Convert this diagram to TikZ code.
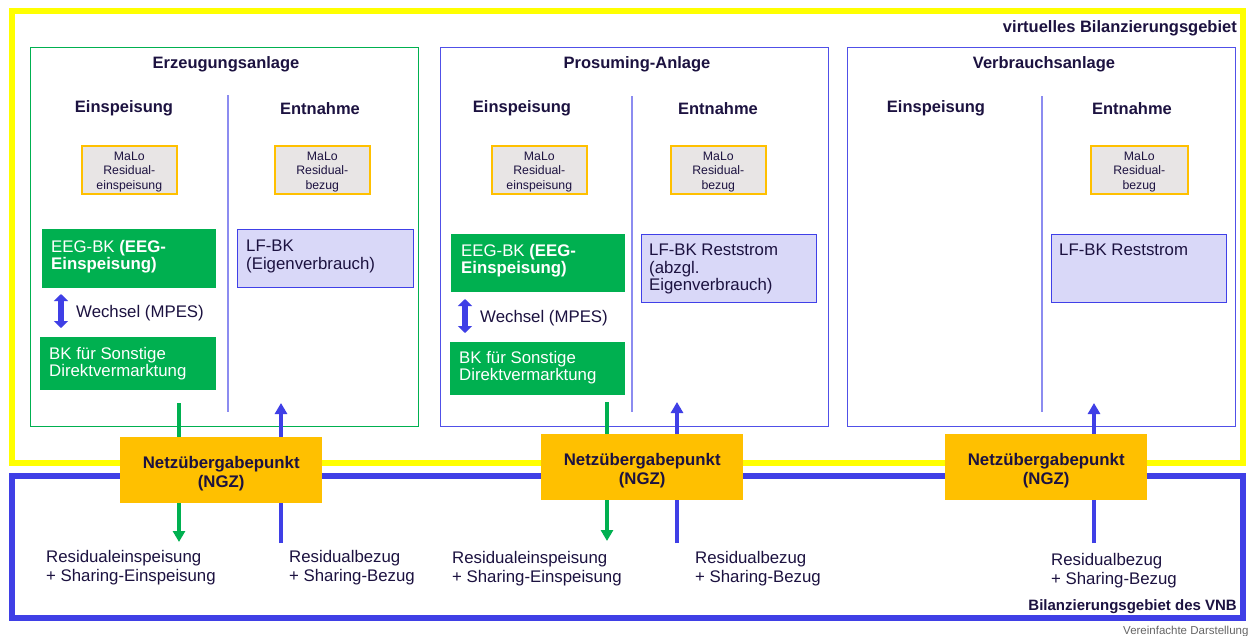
\documentclass[tikz,border=0pt]{standalone}
\usepackage{fontspec}
\setmainfont{Liberation Sans}
\usetikzlibrary{arrows.meta,calc}
\definecolor{ink}{HTML}{1C1240}
\definecolor{yel}{HTML}{FFFF00}
\definecolor{vnb}{HTML}{3F3FE6}
\definecolor{grn}{HTML}{00B050}
\definecolor{org}{HTML}{FFC000}
\definecolor{lav}{HTML}{D9D8F8}
\definecolor{lavb}{HTML}{4040E8}
\definecolor{divc}{HTML}{8C8CF0}
\definecolor{malo}{HTML}{E8E5E5}
\definecolor{pblue}{HTML}{5050E8}
\tikzset{
  txt/.style={text=ink, inner sep=0pt, font=\fontsize{16.8}{17.5}\selectfont, align=left},
  wtxt/.style={text=white, inner sep=0pt, font=\fontsize{16.8}{17.5}\selectfont, align=left},
  head/.style={text=ink, inner sep=0pt, font=\bfseries\fontsize{16.5}{18}\selectfont, yshift=-1.5pt},
  panel/.style={draw, line width=1.3pt, anchor=north west, inner sep=0pt},
  malobox/.style={draw=org, line width=1.6pt, fill=malo, anchor=north west, inner sep=0pt, minimum width=95pt, minimum height=48pt},
  malotxt/.style={text=ink, inner sep=0pt, align=center, font=\fontsize{12.3}{14.5}\selectfont, yshift=-2pt},
  greenbox/.style={fill=grn, anchor=north west, inner sep=0pt},
  lavbox/.style={draw=lavb, fill=lav, line width=1.4pt, anchor=north west, inner sep=0pt},
  ngz/.style={fill=org, anchor=north west, inner sep=0pt, minimum width=202pt, minimum height=66pt},
  ngztxt/.style={text=ink, inner sep=0pt, align=center, font=\bfseries\fontsize{16.8}{19}\selectfont, yshift=-3pt},
  divline/.style={draw=divc, line width=1.3pt},
  flowg/.style={draw=grn, line width=3.3pt, -{Triangle[width=12pt,length=11pt]}},
  flowb/.style={draw=vnb, line width=3.3pt, -{Triangle[width=12pt,length=11pt]}},
  wechsel/.style={draw=vnb, line width=6pt, {Triangle[width=14pt,length=7pt]}-{Triangle[width=14pt,length=7pt]}},
  btxt/.style={text=ink, inner sep=0pt, font=\fontsize{16.8}{19.5}\selectfont, align=left, anchor=north west},
}
\begin{document}
\begin{tikzpicture}[x=1pt,y=-1pt]
\useasboundingbox (0,0) rectangle (1248,635);
\fill[white] (0,0) rectangle (1248,635);

% frames
\draw[yel, line width=6pt] (12,11) rectangle (1243,463);
\draw[vnb, line width=6pt] (12,476) rectangle (1243,618);
\node[anchor=east, inner sep=0pt, text=ink, font=\bfseries\fontsize{16.5}{18}\selectfont] (vbg) at (1237,28.5) {virtuelles Bilanzierungsgebiet};
\node[anchor=east, inner sep=0pt, text=ink, font=\bfseries\fontsize{15}{17}\selectfont] (vnbl) at (1237,607) {Bilanzierungsgebiet des VNB};
\node[anchor=west, inner sep=0pt, text=black!60, font=\fontsize{11.5}{13}\selectfont] (vd) at (1123,631.5) {Vereinfachte Darstellung};

% panels
\node[panel, draw=grn, minimum width=388pt, minimum height=379pt] (pA) at (30,47) {};
\node[panel, draw=pblue, minimum width=388pt, minimum height=379pt] (pB) at (440,47) {};
\node[panel, draw=pblue, minimum width=388pt, minimum height=379pt] (pC) at (847,47) {};

\node[head] (tA) at (226,63) {Erzeugungsanlage};
\node[head] (tB) at (637,63) {Prosuming-Anlage};
\node[head] (tC) at (1044,63) {Verbrauchsanlage};

\node[head] (eA) at (124,107) {Einspeisung};
\node[head] (nA) at (320,107) {Entnahme};
\node[head] (eB) at (522,107) {Einspeisung};
\node[head] (nB) at (718,107) {Entnahme};
\node[head] (eC) at (936,107) {Einspeisung};
\node[head] (nC) at (1132,107) {Entnahme};

% dividers
\coordinate (dA1) at (228,95); \coordinate (dA2) at (228,412);
\coordinate (dB1) at (632,96); \coordinate (dB2) at (632,412);
\coordinate (dC1) at (1042,96); \coordinate (dC2) at (1042,412);
\draw[divline] (dA1) -- (dA2);
\draw[divline] (dB1) -- (dB2);
\draw[divline] (dC1) -- (dC2);

% MaLo boxes
\node[malobox] (mA1) at (81,145) {};
\node[malotxt] (mA1t) at (mA1.center) {MaLo\\Residual-\\einspeisung};
\node[malobox] (mA2) at (274,145) {};
\node[malotxt] (mA2t) at (mA2.center) {MaLo\\Residual-\\bezug};
\node[malobox] (mB1) at (491,145) {};
\node[malotxt] (mB1t) at (mB1.center) {MaLo\\Residual-\\einspeisung};
\node[malobox] (mB2) at (670,145) {};
\node[malotxt] (mB2t) at (mB2.center) {MaLo\\Residual-\\bezug};
\node[malobox, minimum width=97pt] (mC2) at (1090,145) {};
\node[malotxt] (mC2t) at (mC2.center) {MaLo\\Residual-\\bezug};

% green boxes
\node[greenbox, minimum width=174pt, minimum height=59pt] (gA1) at (42,229) {};
\node[wtxt, anchor=north west] (gA1t) at (51,240) {EEG-BK \textbf{(EEG-}\\\textbf{Einspeisung)}};
\node[greenbox, minimum width=176pt, minimum height=53pt] (gA2) at (40,337) {};
\node[wtxt, anchor=north west] (gA2t) at (49,347) {BK für Sonstige\\Direktvermarktung};
\node[greenbox, minimum width=174pt, minimum height=58pt] (gB1) at (451,234) {};
\node[wtxt, anchor=north west] (gB1t) at (461,244) {EEG-BK \textbf{(EEG-}\\\textbf{Einspeisung)}};
\node[greenbox, minimum width=175pt, minimum height=53pt] (gB2) at (450,342) {};
\node[wtxt, anchor=north west] (gB2t) at (459,351) {BK für Sonstige\\Direktvermarktung};

% Wechsel
\coordinate (wA1) at (61,294); \coordinate (wA2) at (61,328);
\draw[wechsel] (wA1) -- (wA2);
\node[txt, anchor=west] (wAt) at (76,313) {Wechsel (MPES)};
\coordinate (wB1) at (465,299); \coordinate (wB2) at (465,333);
\draw[wechsel] (wB1) -- (wB2);
\node[txt, anchor=west] (wBt) at (480,318) {Wechsel (MPES)};

% lavender boxes
\node[lavbox, minimum width=176pt, minimum height=58pt] (lA) at (237,229) {};
\node[txt, anchor=north west] (lAt) at (246,240) {LF-BK\\(Eigenverbrauch)};
\node[lavbox, minimum width=175pt, minimum height=68pt] (lB) at (641,234) {};
\node[txt, anchor=north west] (lBt) at (649,244) {LF-BK Reststrom\\(abzgl.\\Eigenverbrauch)};
\node[lavbox, minimum width=175pt, minimum height=68pt] (lC) at (1051,234) {};
\node[txt, anchor=north west] (lCt) at (1059,244) {LF-BK Reststrom};

% flows (behind NGZ)
\coordinate (fgA1) at (179,403); \coordinate (fgA2) at (179,542);
\coordinate (fbA1) at (281,543); \coordinate (fbA2) at (281,403);
\coordinate (fgB1) at (607,402); \coordinate (fgB2) at (607,541);
\coordinate (fbB1) at (677,543); \coordinate (fbB2) at (677,402);
\coordinate (fbC1) at (1094,543); \coordinate (fbC2) at (1094,403);
\draw[flowg] (fgA1) -- (fgA2);
\draw[flowb] (fbA1) -- (fbA2);
\draw[flowg] (fgB1) -- (fgB2);
\draw[flowb] (fbB1) -- (fbB2);
\draw[flowb] (fbC1) -- (fbC2);

% NGZ
\node[ngz] (ngA) at (120,437) {};
\node[ngztxt] (ngAt) at (ngA.center) {Netzübergabepunkt\\(NGZ)};
\node[ngz] (ngB) at (541,434) {};
\node[ngztxt] (ngBt) at (ngB.center) {Netzübergabepunkt\\(NGZ)};
\node[ngz] (ngC) at (945,434) {};
\node[ngztxt] (ngCt) at (ngC.center) {Netzübergabepunkt\\(NGZ)};

% bottom labels
\node[btxt] (bA1) at (46,550) {Residualeinspeisung\\+ Sharing-Einspeisung};
\node[btxt] (bA2) at (289,550) {Residualbezug\\+ Sharing-Bezug};
\node[btxt] (bB1) at (452,551) {Residualeinspeisung\\+ Sharing-Einspeisung};
\node[btxt] (bB2) at (695,551) {Residualbezug\\+ Sharing-Bezug};
\node[btxt] (bC2) at (1051,553) {Residualbezug\\+ Sharing-Bezug};
\end{tikzpicture}
\end{document}
